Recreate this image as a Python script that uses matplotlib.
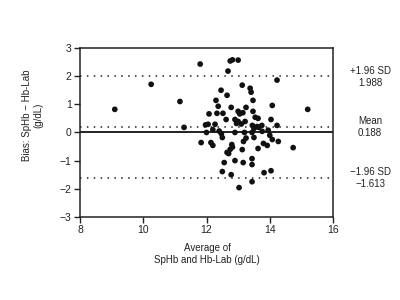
import matplotlib
matplotlib.use("Agg")
import matplotlib.pyplot as plt

plt.rcParams['font.family'] = ['Liberation Sans', 'DejaVu Sans']

avg = [9.10, 10.25, 11.16, 11.80, 11.29, 15.20, 14.74, 14.23,
       12.75, 12.82, 13.00, 12.68,
       13.13, 12.46, 13.38, 13.41, 12.65,
       12.30, 13.47, 12.37, 12.78, 14.08,
       12.08, 12.33, 12.52, 13.00, 13.05, 13.15, 13.25, 13.47,
       12.62, 12.90, 13.00, 13.22, 13.54, 13.63, 14.04,
       11.97, 12.05, 12.27, 13.45, 13.60, 13.75, 13.50, 13.65, 14.23, 12.95, 13.10,
       12.00, 12.40, 12.47, 12.50, 12.90, 13.20, 13.25, 13.17, 13.44, 13.50,
       13.76, 13.95, 14.00, 14.08, 12.20,
       11.83, 12.14, 12.20, 14.27, 13.80, 13.92,
       13.63, 12.80, 12.75, 12.70, 12.65, 12.82, 13.13,
       12.90, 12.56, 13.16, 13.44, 13.44,
       12.50, 12.78, 13.82, 14.04, 13.44, 13.03]
bias = [0.82, 1.71, 1.10, 2.43, 0.18, 0.82, -0.54, 1.86,
        2.54, 2.58, 2.57, 2.18,
        1.68, 1.50, 1.57, 1.43, 1.32,
        1.14, 1.14, 0.93, 0.89, 0.96,
        0.66, 0.68, 0.68, 0.75, 0.66, 0.70, 0.89, 0.75,
        0.46, 0.46, 0.39, 0.39, 0.54, 0.50, 0.46,
        0.27, 0.29, 0.29, 0.25, 0.21, 0.25, 0.14, 0.18, 0.25, 0.32, 0.30,
        0.00, 0.05, -0.04, -0.18, 0.00, 0.00, -0.20, -0.32, 0.00, -0.18,
        0.04, 0.08, -0.10, -0.25, 0.10,
        -0.36, -0.36, -0.46, -0.32, -0.39, -0.46,
        -0.57, -0.43, -0.60, -0.75, -0.71, -0.52, -0.61,
        -1.00, -1.07, -1.07, -0.93, -1.14,
        -1.39, -1.50, -1.43, -1.36, -1.75, -1.96]

mean_bias = 0.188
upper_loa = 1.988
lower_loa = -1.613
x_ticks = [8, 10, 12, 14, 16]
y_ticks = [-3, -2, -1, 0, 1, 2, 3]

fig = plt.figure(figsize=(4, 3), dpi=100)
ax = fig.add_axes([0.2, 0.277, 0.6325, 0.563])

ax.axhline(0, color='#222222', lw=1.4, zorder=1)
for v in (mean_bias, upper_loa, lower_loa):
    ax.axhline(v, color='#222222', lw=1.1, linestyle=(0, (1, 3.5)), zorder=1)

ax.scatter(avg, bias, s=17, color='#111111', edgecolors='none', zorder=3)

ax.set_xlim(8, 16)
ax.set_ylim(-3, 3)
ax.set_xticks(x_ticks)
ax.set_yticks(y_ticks)
ax.set_yticklabels([str(t).replace('-', '\u2212') for t in y_ticks])
ax.tick_params(direction='out', length=4, width=1, labelsize=7.5, colors='#222222', pad=2)
for sp in ax.spines.values():
    sp.set_linewidth(1.1)
    sp.set_color('#222222')

fig.text(33/400, 1-115/300, "Bias: SpHb \u2212 Hb-Lab\n(g/dL)", rotation=90,
         ha='center', va='center', fontsize=7, color='#222222', linespacing=1.2)
fig.text(207/400, 1-254/300, "Average of\nSpHb and Hb-Lab (g/dL)",
         ha='center', va='center', fontsize=7, color='#222222', linespacing=1.3)

labels = [("+1.96 SD\n1.988", 77), ("Mean\n0.188", 127), ("\u22121.96 SD\n\u22121.613", 178)]
for txt, py in labels:
    fig.text(370/400, 1-py/300, txt, ha='center', va='center', fontsize=7,
             color='#222222', linespacing=1.3)

fig.savefig("out.png", dpi=100)
